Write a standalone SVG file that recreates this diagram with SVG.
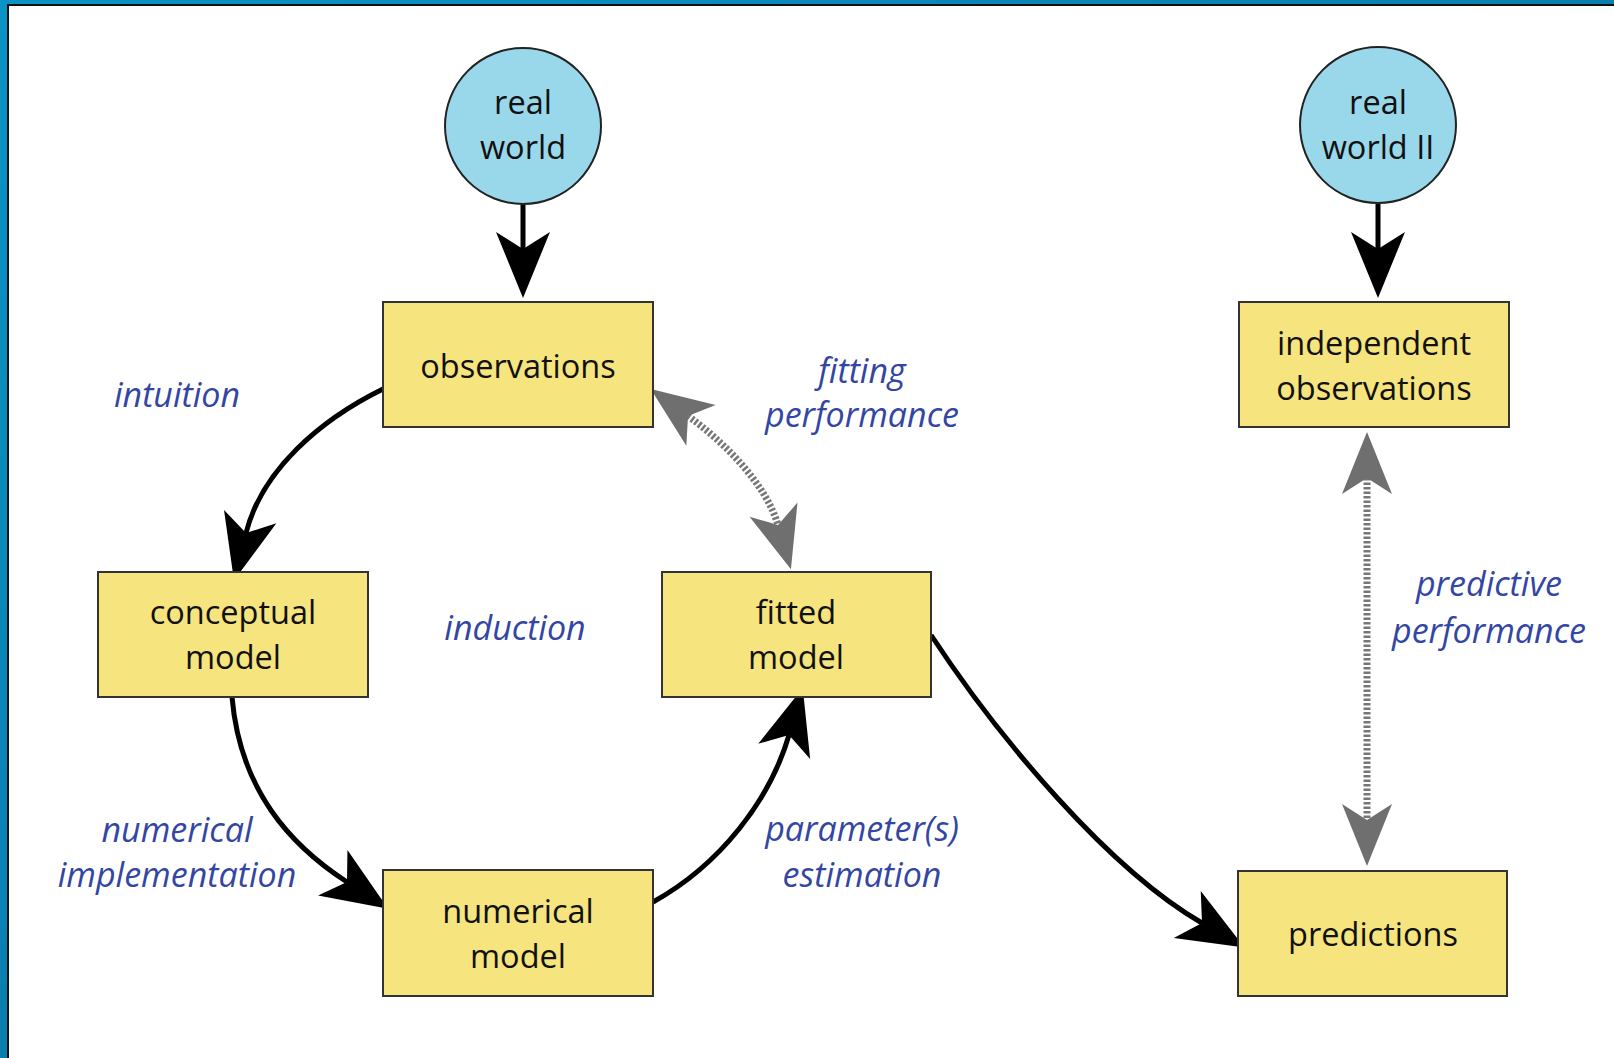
<svg xmlns="http://www.w3.org/2000/svg" width="1614" height="1058" viewBox="0 0 1614 1058">
  <defs>
    <linearGradient id="frameGrad" x1="0" y1="0" x2="1" y2="1">
      <stop offset="0" stop-color="#0a93c4"/>
      <stop offset="0.5" stop-color="#0a7fb0"/>
      <stop offset="1" stop-color="#0b4f80"/>
    </linearGradient>
    <marker id="arrowBlack" markerUnits="userSpaceOnUse" viewBox="0 -27 66 54" markerWidth="66" markerHeight="54" refX="17" refY="0" orient="auto" overflow="visible">
      <path d="M66,0 L0,-27 L17,0 L0,27 Z" fill="#000"/>
    </marker>
    <marker id="arrowGrayEnd" markerUnits="userSpaceOnUse" viewBox="0 -25 62 50" markerWidth="62" markerHeight="50" refX="16" refY="0" orient="auto" overflow="visible">
      <path d="M62,0 L0,-25 L16,0 L0,25 Z" fill="#6f6f6f"/>
    </marker>
    <marker id="arrowGrayStart" markerUnits="userSpaceOnUse" viewBox="0 -25 62 50" markerWidth="62" markerHeight="50" refX="16" refY="0" orient="auto-start-reverse" overflow="visible">
      <path d="M62,0 L0,-25 L16,0 L0,25 Z" fill="#6f6f6f"/>
    </marker>
  </defs>
  <style>
    .box { fill: #f6e47e; stroke: #333; stroke-width: 2; }
    .circ { fill: #99d8ea; stroke: #222; stroke-width: 2; }
    .nt { font-family: "Open Sans", "Noto Sans", sans-serif; font-size: 32.5px; fill: #111; text-anchor: middle; }
    .lbl { font-family: "Open Sans", "Noto Sans", sans-serif; font-size: 34px; font-style: italic; fill: #3346a3; text-anchor: middle; }
    .solid { fill: none; stroke: #000; stroke-width: 5; marker-end: url(#arrowBlack); }
    .dotted { fill: none; stroke: #777; stroke-width: 7; stroke-dasharray: 2.5 2; marker-start: url(#arrowGrayStart); marker-end: url(#arrowGrayEnd); }
  </style>

  <!-- frame -->
  <rect x="0" y="0" width="1614" height="1058" fill="url(#frameGrad)"/>
  <rect x="7" y="4" width="1607" height="1054" fill="#111"/>
  <rect x="9" y="6" width="1605" height="1052" fill="#fff"/>

  <!-- connectors -->
  <g id="connectors">
    <path class="solid" d="M523,204 L523,249"/>
    <path class="solid" d="M1378,204 L1378,249"/>
    <path class="solid" d="M383,389 C320,420 262,470 246,533"/>
    <path class="solid" d="M232,697 C240,790 290,845 347,882"/>
    <path class="solid" d="M653,902 C720,865 770,800 789,735"/>
    <path class="solid" d="M931,635 C1000,740 1110,870 1202,923"/>
    <path class="dotted" d="M688,416 C724,442 766,484 778,525"/>
    <path class="dotted" d="M1367,478 L1367,820"/>
  </g>

  <!-- nodes -->
  <g id="real-world">
    <circle class="circ" cx="523" cy="126" r="78"/>
    <text class="nt" x="523" y="114">real</text>
    <text class="nt" x="523" y="159">world</text>
  </g>
  <g id="real-world-2">
    <circle class="circ" cx="1378" cy="125" r="78"/>
    <text class="nt" x="1378" y="114">real</text>
    <text class="nt" x="1378" y="159">world II</text>
  </g>
  <g id="observations">
    <rect class="box" x="383" y="302" width="270" height="125"/>
    <text class="nt" x="518" y="378">observations</text>
  </g>
  <g id="conceptual-model">
    <rect class="box" x="98" y="572" width="270" height="125"/>
    <text class="nt" x="233" y="624">conceptual</text>
    <text class="nt" x="233" y="669">model</text>
  </g>
  <g id="fitted-model">
    <rect class="box" x="662" y="572" width="269" height="125"/>
    <text class="nt" x="796" y="624">fitted</text>
    <text class="nt" x="796" y="669">model</text>
  </g>
  <g id="numerical-model">
    <rect class="box" x="383" y="870" width="270" height="126"/>
    <text class="nt" x="518" y="923">numerical</text>
    <text class="nt" x="518" y="968">model</text>
  </g>
  <g id="independent-observations">
    <rect class="box" x="1239" y="302" width="270" height="125"/>
    <text class="nt" x="1374" y="355">independent</text>
    <text class="nt" x="1374" y="400">observations</text>
  </g>
  <g id="predictions">
    <rect class="box" x="1238" y="871" width="269" height="125"/>
    <text class="nt" x="1373" y="946">predictions</text>
  </g>

  <!-- labels -->
  <g id="labels">
    <text class="lbl" x="177" y="407">intuition</text>
    <text class="lbl" x="515" y="640">induction</text>
    <text class="lbl" x="862" y="383">fitting</text>
    <text class="lbl" x="862" y="427">performance</text>
    <text class="lbl" x="177" y="842">numerical</text>
    <text class="lbl" x="177" y="887">implementation</text>
    <text class="lbl" x="862" y="841">parameter(s)</text>
    <text class="lbl" x="862" y="887">estimation</text>
    <text class="lbl" x="1489" y="596">predictive</text>
    <text class="lbl" x="1489" y="643">performance</text>
  </g>
</svg>
